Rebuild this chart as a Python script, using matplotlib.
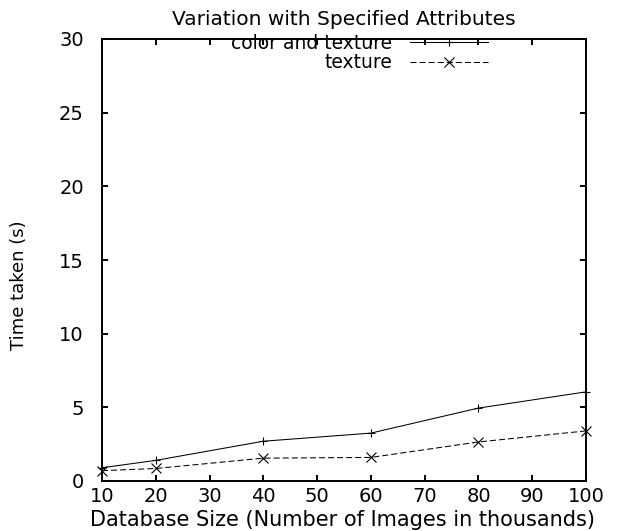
import matplotlib
matplotlib.use("Agg")
import matplotlib.pyplot as plt

plt.rcParams['font.family'] = ['DejaVu Sans']

sizes = [10, 20, 40, 60, 80, 100]
color_texture = [0.9, 1.4, 2.7, 3.25, 4.95, 6.05]
texture = [0.7, 0.85, 1.55, 1.6, 2.65, 3.4]

fig = plt.figure(figsize=(6.39, 5.31), dpi=100)
# plot box: x 102..586 px, y 39..481 px
ax = fig.add_axes([102 / 639, 50 / 531, 484 / 639, 442 / 531])

ax.plot(sizes, color_texture, color='black', lw=0.75, marker='+', ms=6, mew=0.8,
        label='color and texture', clip_on=False)
ax.plot(sizes, texture, color='black', lw=0.75, ls=(0, (5.8, 2.9)), marker='x', ms=6.5, mew=0.8,
        label='texture', clip_on=False)

ax.set_xlim(10, 100)
ax.set_ylim(0, 30)
ax.set_xticks(range(10, 101, 10))
ax.set_yticks(range(0, 31, 5))
ax.tick_params(direction='in', length=4.5, width=1.4, top=True, right=True, labelsize=14)
ax.tick_params(axis='x', pad=4.5)
ax.tick_params(axis='y', pad=13)
for s in ax.spines.values():
    s.set_linewidth(1.4)

ax.set_title('Variation with Specified Attributes', fontsize=14.5, pad=10.3)

ax.set_xlabel('Database Size (Number of Images in thousands)', fontsize=15)
ax.xaxis.label.set_verticalalignment('baseline')
ax.xaxis.set_label_coords(0.496, -45 / 442)

ax.set_ylabel('Time taken (s)', fontsize=13)
ax.yaxis.label.set_verticalalignment('center')
ax.yaxis.set_label_coords(-83 / 484, 0.443)

leg = ax.legend(loc='upper right', bbox_to_anchor=((488 - 102) / 484, (481 - 34) / 442),
                frameon=False, fontsize=13.5, markerfirst=False, handlelength=4.16,
                handletextpad=0.96, labelspacing=0.02, borderpad=0, borderaxespad=0)

fig.savefig('out.png', dpi=100)
